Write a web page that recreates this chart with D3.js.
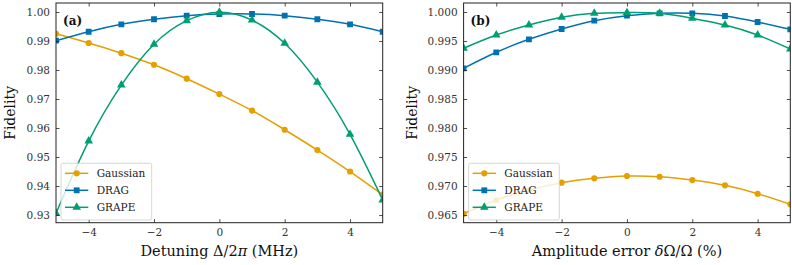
<!DOCTYPE html>
<html><head><meta charset="utf-8">
<script src="https://cdn.jsdelivr.net/npm/d3@7"></script>
<style>
body{margin:0;background:#fff;}
svg{display:block;font-family:"DejaVu Serif",serif;}
</style></head>
<body><svg id="c" width="792" height="265"></svg>
<script>
const xValues = [-5,-4,-3,-2,-1,0,1,2,3,4,5];
const seriesNames = ["Gaussian","DRAG","GRAPE"];
// Panel (a): detuning
const aGaussian = [0.9925,0.9893,0.9858,0.9818,0.9770,0.9717,0.9660,0.9594,0.9524,0.9450,0.9370];
const aDRAG     = [0.9901,0.9932,0.99575,0.9975,0.99873,0.9993,0.9993,0.99873,0.9975,0.99575,0.9932];
const aGRAPE    = [0.9306,0.9555,0.9748,0.9889,0.9970,0.9999,0.9972,0.9892,0.9758,0.9578,0.9352];
// Panel (b): amplitude error
const bGaussian = [0.96522,0.96759,0.9693,0.97057,0.97133,0.97172,0.9716,0.97103,0.97012,0.96867,0.96684];
const bDRAG     = [0.99029,0.99305,0.99529,0.99707,0.9985,0.99936,0.99977,0.99977,0.99931,0.99828,0.99701];
const bGRAPE    = [0.99374,0.99603,0.99776,0.99909,0.99977,0.99989,0.99977,0.99891,0.99776,0.99603,0.99362];
const xTicks = [-4,-2,0,2,4];
const aYTicks = [0.93,0.94,0.95,0.96,0.97,0.98,0.99,1.00];
const bYTicks = [0.965,0.970,0.975,0.980,0.985,0.990,0.995,1.000];
const aXLabel = [["Detuning \u0394/2",""],["\u03c0","italic"],[" (MHz)",""]];
const bXLabel = [["Amplitude error ",""],["\u03b4","italic"],["\u03a9/\u03a9 (%)",""]];

const colors = {Gaussian:"#E69F00", DRAG:"#0072B2", GRAPE:"#009E73"};
const markers = {Gaussian:d3.symbolCircle, DRAG:d3.symbolSquare, GRAPE:d3.symbolTriangle};
const msize = {Gaussian:30, DRAG:34, GRAPE:32};

const svg = d3.select("#c");
const plotTop = 3, plotBottom = 222.7;

function panel(opts){
  const g = svg.append("g");
  const x = d3.scaleLinear().domain([-5,5]).range([opts.left, opts.right]);
  const y = d3.scaleLinear().domain(opts.ydom).range([plotBottom, plotTop]);
  const cid = "clip"+opts.label;
  svg.append("clipPath").attr("id",cid).append("rect")
    .attr("x",opts.left).attr("y",plotTop).attr("width",opts.right-opts.left).attr("height",plotBottom-plotTop);
  const plot = g.append("g").attr("clip-path",`url(#${cid})`);
  const line = d3.line().x((d,i)=>x(xValues[i])).y(d=>y(d)).curve(d3.curveNatural);
  opts.series.forEach((vals,k)=>{
    const name = seriesNames[k];
    plot.append("path").attr("d",line(vals)).attr("fill","none")
      .attr("stroke",colors[name]).attr("stroke-width",1.5);
    plot.selectAll(null).data(vals).enter().append("path")
      .attr("d",d3.symbol().type(markers[name]).size(msize[name]))
      .attr("transform",(d,i)=>`translate(${x(xValues[i])},${y(d)})`)
      .attr("fill",colors[name]);
  });
  const axB = d3.axisBottom(x).tickValues(xTicks).tickSize(-3.5).tickPadding(6)
    .tickFormat(d=>d<0?"\u2212"+Math.abs(d):d);
  const axT = d3.axisTop(x).tickValues(xTicks).tickSize(-3.5).tickFormat("");
  const axL = d3.axisLeft(y).tickValues(opts.yticks).tickSize(-3.5).tickPadding(6).tickFormat(opts.fmt);
  const axR = d3.axisRight(y).tickValues(opts.yticks).tickSize(-3.5).tickFormat("");
  const gb = g.append("g").attr("transform",`translate(0,${plotBottom})`).call(axB);
  const gt = g.append("g").attr("transform",`translate(0,${plotTop})`).call(axT);
  const gl = g.append("g").attr("transform",`translate(${opts.left},0)`).call(axL);
  const gr = g.append("g").attr("transform",`translate(${opts.right},0)`).call(axR);
  [gb,gt,gl,gr].forEach(a=>{
    a.select(".domain").remove();
    a.selectAll("line").attr("stroke","#222").attr("stroke-width",0.8);
    a.selectAll("text").attr("font-family","DejaVu Serif").attr("font-size",10.5).attr("fill","#333");
  });
  g.append("rect").attr("x",opts.left).attr("y",plotTop).attr("width",opts.right-opts.left)
    .attr("height",plotBottom-plotTop).attr("fill","none").attr("stroke","#222").attr("stroke-width",1);
  const xl = g.append("text").attr("x",(opts.left+opts.right)/2).attr("y",256)
    .attr("text-anchor","middle").attr("font-size",14.5).attr("fill","#111");
  opts.xlabel.forEach(([s,st])=>xl.append("tspan").attr("font-style",st||null).text(s));
  g.append("text").attr("transform",`translate(${opts.ylx},${(plotTop+plotBottom)/2}) rotate(-90)`)
    .attr("text-anchor","middle").attr("font-size",14).attr("fill","#111").text("Fidelity");
  g.append("text").attr("x",opts.left+7).attr("y",25).attr("font-weight","bold")
    .attr("font-size",12).attr("fill","#111").text(`(${opts.label})`);
  const lx = opts.left+5, ly = 163.3;
  const lg = g.append("g");
  lg.append("rect").attr("x",lx).attr("y",ly).attr("width",90.7).attr("height",56.7)
    .attr("rx",2).attr("fill","#fff").attr("fill-opacity",0.8).attr("stroke","#ccc").attr("stroke-width",0.8);
  seriesNames.forEach((name,i)=>{
    const yy = 173.3 + i*17;
    lg.append("line").attr("x1",lx+4).attr("x2",lx+27.3).attr("y1",yy).attr("y2",yy)
      .attr("stroke",colors[name]).attr("stroke-width",1.5);
    lg.append("path").attr("d",d3.symbol().type(markers[name]).size(msize[name])())
      .attr("transform",`translate(${lx+15.7},${yy})`).attr("fill",colors[name]);
    lg.append("text").attr("x",lx+35.7).attr("y",yy+3.7).attr("font-size",10.5)
      .attr("fill","#222").text(name);
  });
}

panel({label:"a", left:56, right:382.7, ydom:[0.92735,1.0031], yticks:aYTicks,
  fmt:d3.format(".2f"), series:[aGaussian,aDRAG,aGRAPE], xlabel:aXLabel, ylx:15});
panel({label:"b", left:463.6, right:790.3, ydom:[0.963675,1.00155], yticks:bYTicks,
  fmt:d3.format(".3f"), series:[bGaussian,bDRAG,bGRAPE], xlabel:bXLabel, ylx:417});
</script></body></html>
